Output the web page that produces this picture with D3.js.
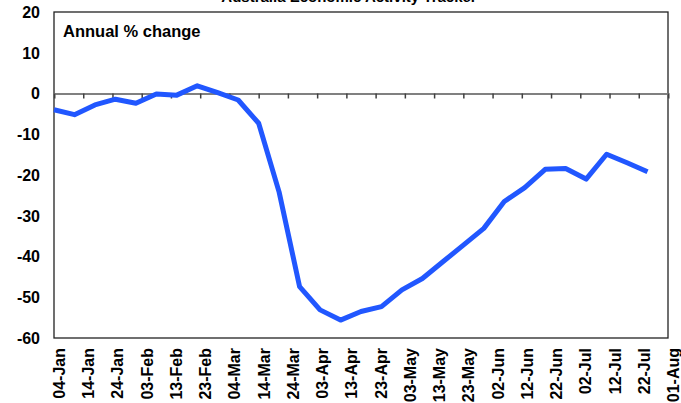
<!DOCTYPE html>
<html>
<head>
<meta charset="utf-8">
<script src="https://cdn.jsdelivr.net/npm/d3@7"></script>
<style>
  body { margin: 0; background: #fff; }
  svg text { font-family: "Liberation Sans", Arial, sans-serif; font-weight: bold; fill: #000; }
</style>
</head>
<body>
<div id="chart"></div>
<script>
const width = 681;
const height = 403;

// weekly observations, 2020
const dates = [
  "2020-01-04", "2020-01-11", "2020-01-18", "2020-01-25", "2020-02-01",
  "2020-02-08", "2020-02-15", "2020-02-22", "2020-02-29", "2020-03-07",
  "2020-03-14", "2020-03-21", "2020-03-28", "2020-04-04", "2020-04-11",
  "2020-04-18", "2020-04-25", "2020-05-02", "2020-05-09", "2020-05-16",
  "2020-05-23", "2020-05-30", "2020-06-06", "2020-06-13", "2020-06-20",
  "2020-06-27", "2020-07-04", "2020-07-11", "2020-07-18", "2020-07-25"
];
const values = [
  -4.0, -5.2, -2.8, -1.4, -2.4,
  -0.1, -0.4, 1.9, 0.2, -1.6,
  -7.3, -24.2, -47.4, -53.1, -55.6,
  -53.5, -52.3, -48.2, -45.4, -41.3,
  -37.2, -33.1, -26.5, -23.1, -18.6,
  -18.4, -21.0, -14.9, -17.0, -19.2
];

const tickDates = [
  "2020-01-04", "2020-01-14", "2020-01-24", "2020-02-03", "2020-02-13",
  "2020-02-23", "2020-03-04", "2020-03-14", "2020-03-24", "2020-04-03",
  "2020-04-13", "2020-04-23", "2020-05-03", "2020-05-13", "2020-05-23",
  "2020-06-02", "2020-06-12", "2020-06-22", "2020-07-02", "2020-07-12",
  "2020-07-22", "2020-08-01"
];
const yTicks = [20, 10, 0, -10, -20, -30, -40, -50, -60];

const title = "Australia Economic Activity Tracker";
const subtitle = "Annual % change";

const parse = d3.timeParse("%Y-%m-%d");
const fmt = d3.timeFormat("%d-%b");

const margin = { top: 12, right: 13, bottom: 65, left: 54 };
const plotW = width - margin.left - margin.right;
const plotH = height - margin.top - margin.bottom;

const x = d3.scaleTime()
  .domain([parse(tickDates[0]), parse(tickDates[tickDates.length - 1])])
  .range([0, plotW]);

const y = d3.scaleLinear()
  .domain([-60, 20])
  .range([plotH, 0]);

const svg = d3.select("#chart")
  .append("svg")
  .attr("width", width)
  .attr("height", height);

svg.append("text")
  .attr("x", 349)
  .attr("y", 2)
  .attr("text-anchor", "middle")
  .style("font-size", "15px")
  .text(title);

const g = svg.append("g")
  .attr("transform", `translate(${margin.left},${margin.top})`);

// frame
g.append("rect")
  .attr("width", plotW)
  .attr("height", plotH)
  .attr("fill", "none")
  .attr("stroke", "#222")
  .attr("stroke-width", 1.3);

// zero line with date ticks
const xAxis = g.append("g")
  .attr("transform", `translate(0,${y(0)})`)
  .call(d3.axisBottom(x)
    .tickValues(tickDates.map(parse))
    .tickSize(5)
    .tickFormat(""));
xAxis.select(".domain").attr("stroke", "#808080").attr("stroke-width", 2);
xAxis.selectAll(".tick line").attr("stroke", "#404040").attr("stroke-width", 1.5);

// rotated date labels below the plot
g.append("g")
  .selectAll("text")
  .data(tickDates)
  .enter()
  .append("text")
  .attr("transform", d => `translate(${x(parse(d)) + 11},${plotH + 10}) rotate(-90)`)
  .attr("text-anchor", "end")
  .style("font-size", "16px")
  .text(d => fmt(parse(d)));

// y labels
g.append("g")
  .selectAll("text")
  .data(yTicks)
  .enter()
  .append("text")
  .attr("x", -14)
  .attr("y", d => y(d))
  .attr("dy", "0.36em")
  .attr("text-anchor", "end")
  .style("font-size", "16px")
  .text(d => d);

g.append("text")
  .attr("x", 9)
  .attr("y", 24.5)
  .style("font-size", "16.5px")
  .text(subtitle);

const line = d3.line()
  .x((d, i) => x(parse(dates[i])))
  .y(d => y(d));

g.append("path")
  .datum(values)
  .attr("fill", "none")
  .attr("stroke", "#2157ff")
  .attr("stroke-width", 5)
  .attr("stroke-linejoin", "round")
  .attr("d", line);
</script>
</body>
</html>
